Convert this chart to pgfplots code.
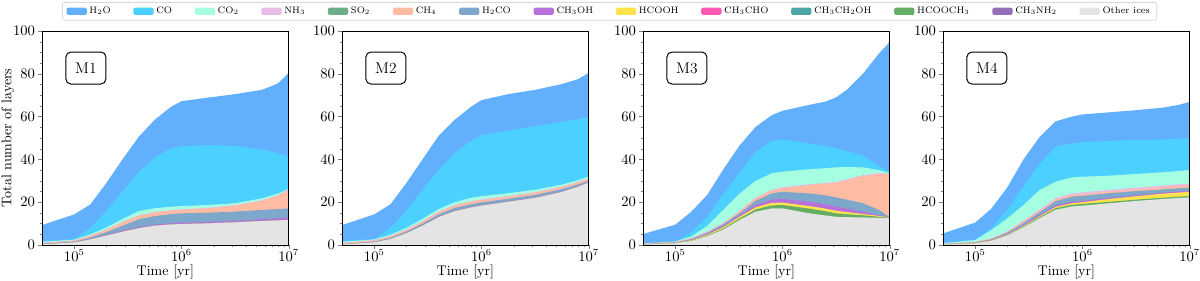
\documentclass[border=0pt]{standalone}
\usepackage{pgfplots}
\pgfplotsset{compat=1.18}
\usepackage{pgfplotstable}

\definecolor{cH2O}{RGB}{98,176,253}
\definecolor{cCO}{RGB}{75,208,255}
\definecolor{cCOtwo}{RGB}{165,255,225}
\definecolor{cNH3}{RGB}{231,188,231}
\definecolor{cSO2}{RGB}{109,174,137}
\definecolor{cCH4}{RGB}{255,188,162}
\definecolor{cH2CO}{RGB}{125,168,203}
\definecolor{cCH3OH}{RGB}{184,112,219}
\definecolor{cHCOOH}{RGB}{255,227,77}
\definecolor{cCH3CHO}{RGB}{255,90,179}
\definecolor{cETOH}{RGB}{77,166,166}
\definecolor{cHCOOCH3}{RGB}{100,174,100}
\definecolor{cCH3NH2}{RGB}{148,112,184}
\definecolor{cOther}{RGB}{228,228,228}

% cumulative tops of the stacked layers
\pgfplotstableread{
t        gray  hcooch3 hcooh ch3oh h2co ch4  nh3  co2  co   h2o
5e4      0.3   0.3  0.3  0.4   0.6  0.9  1.1  1.5  1.9  9.3
1e5      1.2   1.2  1.2  1.4   1.6  2.0  2.2  2.5  2.8  14.3
1.413e5  2.6   2.6  2.6  2.9   3.5  4.2  4.5  5.0  8.0  19.0
1.995e5  4.4   4.4  4.4  4.8   6.0  7.0  7.3  8.2  16.0 29.0
2.818e5  6.2   6.2  6.2  6.7   9.0  10.5 10.8 12.2 25.0 40.0
3.981e5  7.8   7.8  7.8  8.3   12.0 13.6 13.9 15.8 34.0 50.5
5.623e5  9.0   9.0  9.0  9.5   13.5 15.2 15.5 17.2 41.0 58.5
7.943e5  9.6   9.6  9.6  10.2  14.4 16.0 16.3 17.9 45.0 64.5
1e6      9.8   9.8  9.8  10.4  14.8 16.4 16.7 18.2 46.2 67.2
1.778e6  10.1  10.1 10.1 10.8  15.1 17.1 17.4 18.7 46.7 68.9
3.162e6  10.6  10.6 10.6 11.3  15.6 18.4 18.7 19.5 46.3 70.5
5.623e6  11.2  11.2 11.2 12.0  16.4 20.6 20.9 21.8 44.6 72.5
7.943e6  11.5  11.5 11.5 12.5  16.8 23.0 23.3 24.0 43.0 75.5
1e7      11.7  11.7 11.7 12.8  17.1 25.7 26.0 26.2 41.2 80.4
}\tabA

\pgfplotstableread{
t        gray  hcooch3 hcooh ch3oh h2co ch4  nh3  co2  co   h2o
5e4      0.3   0.3  0.3  0.4   0.5  0.9  1.1  1.5  1.9  9.3
1e5      1.2   1.2  1.2  1.4   1.6  2.1  2.3  2.6  2.8  14.3
1.413e5  2.8   2.8  2.8  3.0   3.4  4.0  4.3  4.8  8.0  19.0
1.995e5  5.5   5.5  5.5  5.8   6.3  7.0  7.3  8.0  16.0 29.0
2.818e5  9.0   9.0  9.0  9.3   10.0 10.9 11.2 12.2 26.0 40.0
3.981e5  13.0  13.0 13.0 13.3  14.3 15.3 15.6 16.8 35.0 51.0
5.623e5  15.8  15.8 15.8 16.1  17.3 18.4 18.7 20.0 43.0 58.5
7.943e5  17.5  17.5 17.5 17.8  19.0 20.2 20.5 22.0 48.5 64.5
1e6      18.4  18.4 18.4 18.7  19.9 21.0 21.3 22.8 51.3 67.7
1.778e6  20.2  20.2 20.2 20.5  21.6 22.6 22.9 24.2 53.5 70.5
3.162e6  22.0  22.0 22.0 22.3  23.4 24.4 24.7 25.8 55.5 72.5
5.623e6  24.8  24.8 24.8 25.1  26.1 27.1 27.4 28.2 57.5 75.2
7.943e6  27.2  27.2 27.2 27.5  28.3 29.2 29.5 30.3 58.8 77.5
1e7      29.2  29.2 29.2 29.5  30.0 30.9 31.2 32.0 59.9 80.4
}\tabB

\pgfplotstableread{
t        gray  hcooch3 hcooh ch3oh h2co ch4  nh3  co2  co   h2o
5e4      0.2   0.2  0.3  0.3   0.4  0.5  0.6  0.6  0.8  5.1
1e5      0.8   0.9  1.0  1.1   1.2  1.4  1.5  1.6  1.8  9.5
1.413e5  1.9   2.1  2.3  2.5   2.8  3.0  3.3  4.0  6.0  15.6
1.995e5  4.2   4.5  4.9  5.3   5.8  6.0  6.4  9.0  13.2 23.5
2.818e5  7.3   7.8  8.4  9.0   9.8  10.1 10.5 16.5 24.1 35.5
3.981e5  11.7  12.4 13.2 14.0  14.8 15.6 16.0 24.0 34.0 46.5
5.623e5  15.6  16.6 17.6 18.8  20.7 21.8 22.2 30.0 43.5 55.2
7.943e5  17.1  18.5 19.7 21.2  24.1 25.4 25.8 33.5 48.7 60.7
1e6      17.1  18.7 19.8 21.5  24.9 26.6 27.0 34.3 49.3 62.7
1.778e6  14.8  17.0 18.2 20.2  24.1 28.0 28.4 35.4 47.4 65.5
2.512e6  13.8  15.8 17.0 19.0  23.2 28.6 29.0 35.9 46.2 67.0
3.162e6  13.2  14.8 16.0 17.9  22.3 29.1 29.5 36.3 45.1 69.0
3.981e6  13.0  14.4 15.4 17.0  21.2 30.3 30.7 36.4 43.8 72.5
5.623e6  12.9  13.9 14.5 15.6  19.5 32.2 32.6 36.3 42.0 80.0
7.943e6  12.7  13.2 13.6 14.0  16.4 33.2 33.6 35.0 37.0 89.5
1e7      12.6  12.8 12.9 13.0  13.0 33.0 33.4 33.6 34.0 94.9
}\tabC

\pgfplotstableread{
t        gray  hcooch3 hcooh ch3oh h2co ch4  nh3  co2  co   h2o
5e4      0.2   0.2  0.3  0.3   0.4  0.5  0.6  0.8  1.0  5.4
1e5      0.8   0.9  1.0  1.1   1.2  1.4  1.5  2.3  2.6  10.5
1.413e5  2.0   2.1  2.2  2.4   2.7  2.9  3.1  7.0  8.0  17.0
1.995e5  4.5   4.7  4.9  5.2   5.8  6.2  6.5  12.5 16.5 27.0
2.818e5  8.3   8.6  8.9  9.3   10.3 11.0 11.5 18.7 27.5 40.0
3.981e5  12.5  13.0 13.4 14.0  15.3 16.0 16.6 25.7 38.0 50.5
5.623e5  16.5  17.2 17.8 18.5  20.5 21.2 21.9 29.6 46.0 57.8
7.943e5  18.0  18.8 19.5 20.2  22.6 23.4 24.1 31.6 47.5 60.0
1e6      18.4  19.2 20.0 20.6  23.0 23.8 24.6 31.9 48.0 61.0
1.778e6  19.5  20.2 21.5 22.0  24.2 25.0 25.8 32.4 48.7 62.0
3.162e6  20.6  21.2 22.8 23.3  25.2 26.0 26.8 33.2 49.0 63.0
5.623e6  21.5  22.1 24.0 24.5  26.0 27.0 27.8 34.0 49.3 64.2
7.943e6  22.0  22.6 24.5 25.0  26.5 27.6 28.4 34.6 49.6 65.5
1e7      22.3  22.9 24.9 25.4  26.8 28.0 28.8 35.0 50.0 66.9
}\tabD

\newcommand{\stackplot}[1]{%
  \addplot[fill=cH2O,draw=none] table[x=t,y=h2o]{#1}\closedcycle;
  \addplot[fill=cCO,draw=none] table[x=t,y=co]{#1}\closedcycle;
  \addplot[fill=cCOtwo,draw=none] table[x=t,y=co2]{#1}\closedcycle;
  \addplot[fill=cNH3,draw=none] table[x=t,y=nh3]{#1}\closedcycle;
  \addplot[fill=cCH4,draw=none] table[x=t,y=ch4]{#1}\closedcycle;
  \addplot[fill=cH2CO,draw=none] table[x=t,y=h2co]{#1}\closedcycle;
  \addplot[fill=cCH3OH,draw=none] table[x=t,y=ch3oh]{#1}\closedcycle;
  \addplot[fill=cHCOOH,draw=none] table[x=t,y=hcooh]{#1}\closedcycle;
  \addplot[fill=cHCOOCH3,draw=none] table[x=t,y=hcooch3]{#1}\closedcycle;
  \addplot[fill=cOther,draw=none] table[x=t,y=gray]{#1}\closedcycle;
}

\newcommand{\panelopts}{%
    scale only axis, width=185pt, height=160.5pt,
    anchor=south west,
    xmode=log, xmin=5e4, xmax=1e7, ymin=0, ymax=100,
    xtick={1e5,1e6,1e7},
    ytick={0,20,40,60,80,100}, minor y tick num=3,
    tick pos=left, tick align=outside,
    major tick length=2.8pt, minor tick length=1.6pt,
    axis line style={line width=0.6pt},
    axis on top=true,
    tick label style={font=\fontsize{10.5}{12}\selectfont},
    xticklabel style={yshift=2.6pt},
    yticklabel style={xshift=1pt},
    label style={font=\fontsize{10.5}{12}\selectfont},
    xlabel={Time [yr]},
    xlabel style={at={(axis description cs:0.5,-0.128)}, anchor=center}%
}

\tikzset{mbox/.style={draw, rounded corners=3.75pt, line width=0.75pt,
    minimum width=30pt, minimum height=24pt, fill=white,
    font=\fontsize{11.6}{13}\selectfont}}

\begin{document}
\begin{tikzpicture}
\edef\tmp{\noexpand\begin{axis}[\unexpanded\expandafter{\panelopts}, at={(31.5pt,26.25pt)},
  ylabel={Total number of layers},
  ylabel style={at={(axis description cs:-0.138,0.5)}, anchor=center}]}\tmp
\stackplot{\tabA}
\node[mbox] at (axis description cs:0.178,0.827) {M1};
\end{axis}
\edef\tmp{\noexpand\begin{axis}[\unexpanded\expandafter{\panelopts}, at={(256.5pt,26.25pt)}]}\tmp
\stackplot{\tabB}
\node[mbox] at (axis description cs:0.178,0.827) {M2};
\end{axis}
\edef\tmp{\noexpand\begin{axis}[\unexpanded\expandafter{\panelopts}, at={(482.25pt,26.25pt)}]}\tmp
\stackplot{\tabC}
\node[mbox] at (axis description cs:0.178,0.827) {M3};
\end{axis}
\edef\tmp{\noexpand\begin{axis}[\unexpanded\expandafter{\panelopts}, at={(707.25pt,26.25pt)}]}\tmp
\stackplot{\tabD}
\node[mbox] at (axis description cs:0.178,0.827) {M4};
\end{axis}
% legend
\begin{axis}[at={(0pt,0pt)}, anchor=south west, scale only axis,
  width=900pt, height=210pt, hide axis,
  xmin=0, xmax=1, ymin=0, ymax=1,
  legend columns=14,
  legend style={at={(0.508,0.993)}, anchor=north, draw=black!15,
    line width=0.6pt, rounded corners=1.5pt,
    font=\fontsize{7}{8.4}\selectfont, inner xsep=3pt, inner ysep=1.5pt,
    /tikz/every even column/.append style={column sep=15pt}},
  legend image code/.code={\path[#1] (0pt,-2.7pt) rectangle (15.2pt,2.7pt);},
]
\addlegendimage{fill=cH2O,draw=none}\addlegendentry{$\mathrm{H_2O}$}
\addlegendimage{fill=cCO,draw=none}\addlegendentry{$\mathrm{CO}$}
\addlegendimage{fill=cCOtwo,draw=none}\addlegendentry{$\mathrm{CO_2}$}
\addlegendimage{fill=cNH3,draw=none}\addlegendentry{$\mathrm{NH_3}$}
\addlegendimage{fill=cSO2,draw=none}\addlegendentry{$\mathrm{SO_2}$}
\addlegendimage{fill=cCH4,draw=none}\addlegendentry{$\mathrm{CH_4}$}
\addlegendimage{fill=cH2CO,draw=none}\addlegendentry{$\mathrm{H_2CO}$}
\addlegendimage{fill=cCH3OH,draw=none}\addlegendentry{$\mathrm{CH_3OH}$}
\addlegendimage{fill=cHCOOH,draw=none}\addlegendentry{$\mathrm{HCOOH}$}
\addlegendimage{fill=cCH3CHO,draw=none}\addlegendentry{$\mathrm{CH_3CHO}$}
\addlegendimage{fill=cETOH,draw=none}\addlegendentry{$\mathrm{CH_3CH_2OH}$}
\addlegendimage{fill=cHCOOCH3,draw=none}\addlegendentry{$\mathrm{HCOOCH_3}$}
\addlegendimage{fill=cCH3NH2,draw=none}\addlegendentry{$\mathrm{CH_3NH_2}$}
\addlegendimage{fill=cOther,draw=none}\addlegendentry{Other ices}
\end{axis}
\pgfresetboundingbox
\path[use as bounding box] (0pt,0pt) rectangle (900pt,210pt);
\end{tikzpicture}
\end{document}
